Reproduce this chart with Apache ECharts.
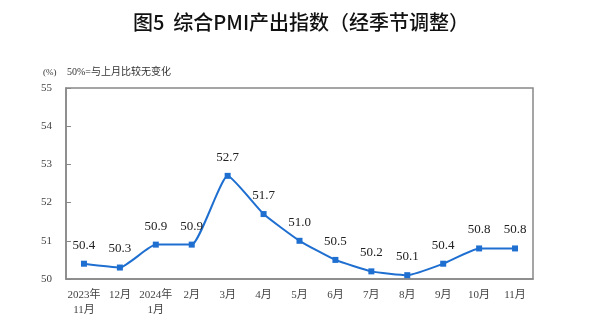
<!DOCTYPE html>
<html><head><meta charset="utf-8">
<script src="https://cdn.jsdelivr.net/npm/echarts@6/dist/echarts.min.js"></script>
<style>html,body{margin:0;padding:0;background:#fff}#c{width:602px;height:336px}</style>
</head><body><div id="c"></div>
<script>
const categories = ['2023年\n11月','12月','2024年\n1月','2月','3月','4月','5月','6月','7月','8月','9月','10月','11月'];
const values = [50.4,50.3,50.9,50.9,52.7,51.7,51.0,50.5,50.2,50.1,50.4,50.8,50.8];
const yTicks = [50,51,52,53,54,55];
const serif = '"Liberation Serif","DejaVu Serif","Noto Sans CJK SC",serif';
const chart = echarts.init(document.getElementById('c'));
chart.setOption({
  animation:false,
  title:[
    {text:'图5  综合PMI产出指数（经季节调整）',left:'center',top:7,textStyle:{fontFamily:'"Noto Sans CJK SC",sans-serif',fontSize:20,fontWeight:500,color:'#111'}},
    {text:'(%)',left:38,top:63,textStyle:{fontFamily:serif,fontSize:9,fontWeight:'normal',color:'#333'}},
    {text:'50%=与上月比较无变化',left:62,top:62,textStyle:{fontFamily:serif,fontSize:10,fontWeight:'normal',color:'#333'}}
  ],
  grid:{left:66,right:69,top:88,bottom:57,show:true,borderColor:'#888',borderWidth:1.5},
  xAxis:{type:'category',data:categories,boundaryGap:true,
    axisLine:{lineStyle:{color:'#888',width:1.5}},
    axisTick:{inside:true,length:5,lineStyle:{color:'#888'}},
    axisLabel:{fontFamily:serif,fontSize:11,color:'#444',margin:9,lineHeight:15,interval:0}},
  yAxis:{type:'value',min:yTicks[0],max:yTicks[yTicks.length-1],interval:1,
    splitLine:{show:false},
    axisLine:{show:true,lineStyle:{color:'#888',width:1.5}},
    axisTick:{show:true,inside:true,length:5,lineStyle:{color:'#888'}},
    axisLabel:{fontFamily:serif,fontSize:11,color:'#444',margin:14}},
  series:[{type:'line',data:values,smooth:0.15,symbol:'rect',symbolSize:6,
    lineStyle:{color:'#1f6fd1',width:2},itemStyle:{color:'#1f6fd1'},
    label:{show:true,position:'top',distance:9,fontFamily:serif,fontSize:13,color:'#222',formatter:p=>p.value.toFixed(1)}}]
});
</script></body></html>
